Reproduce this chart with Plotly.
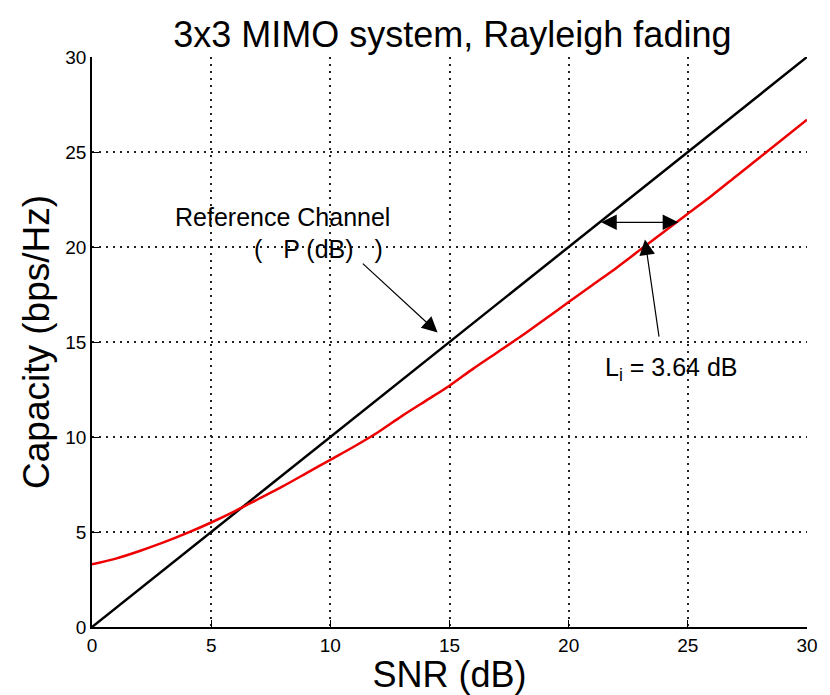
import plotly.graph_objects as go

snr_db = list(range(0, 31))
cap_reference = [float(v) for v in snr_db]
cap_rayleigh = [3.3, 3.6, 4.0, 4.45, 4.95, 5.5, 6.1, 6.75, 7.4, 8.1, 8.8, 9.5, 10.25,
                11.1, 11.9, 12.7, 13.6, 14.45, 15.3, 16.2, 17.1, 18.0, 18.9, 19.85,
                20.8, 21.75, 22.7, 23.7, 24.7, 25.7, 26.7]
tick_vals = [0, 5, 10, 15, 20, 25, 30]

FONT = "Liberation Sans, Arial, sans-serif"

fig = go.Figure()
fig.add_trace(go.Scatter(x=snr_db, y=cap_reference, mode="lines",
                         line=dict(color="black", width=2.5), showlegend=False))
fig.add_trace(go.Scatter(x=snr_db, y=cap_rayleigh, mode="lines",
                         line=dict(color="#ee0000", width=2.5, shape="spline",
                                   smoothing=0.8), showlegend=False))

annos = [
    dict(x=8.0, y=21.6, text="Reference Channel", showarrow=False,
         font=dict(size=25, color="black", family=FONT)),
    dict(x=9.5, y=19.9, text="(\u00a0\u00a0\u00a0P (dB)\u00a0\u00a0\u00a0)", showarrow=False,
         font=dict(size=25, color="black", family=FONT)),
    dict(x=24.3, y=13.6, text="L<sub>i</sub> = 3.64 dB", showarrow=False,
         font=dict(size=25, color="black", family=FONT)),
    # arrow to reference channel line
    dict(x=14.5, y=15.5, ax=11.3, ay=19.2, axref="x", ayref="y", xref="x", yref="y",
         text="", showarrow=True, arrowhead=2, arrowsize=2.6, arrowwidth=1.2,
         arrowcolor="black"),
    # arrow to red curve
    dict(x=23.2, y=20.4, ax=23.8, ay=15.2, axref="x", ayref="y", xref="x", yref="y",
         text="", showarrow=True, arrowhead=2, arrowsize=2.6, arrowwidth=1.2,
         arrowcolor="black"),
    # double-headed arrow showing loss
    dict(x=24.6, y=21.3, ax=21.3, ay=21.3, axref="x", ayref="y", xref="x", yref="y",
         text="", showarrow=True, arrowhead=2, startarrowhead=2, arrowside="end+start",
         arrowsize=2.6, startarrowsize=2.6, arrowwidth=1.2, arrowcolor="black"),
]

axis_common = dict(
    range=[0, 30], tickvals=tick_vals, ticks="inside", ticklen=7, tickcolor="black",
    showline=True, linecolor="black", linewidth=1.5, mirror=False,
    showgrid=True, gridcolor="#222222", griddash="2px,5px", gridwidth=1.5,
    zeroline=False, tickfont=dict(size=19, color="black", family=FONT),
)

fig.update_layout(
    width=830, height=695,
    margin=dict(l=92, r=18, t=57, b=68),
    paper_bgcolor="white", plot_bgcolor="white",
    title=dict(text="3x3 MIMO system, Rayleigh fading", x=0.545, xanchor="center",
               y=0.95, yanchor="middle",
               font=dict(size=36, color="black", family=FONT)),
    xaxis=dict(**axis_common,
               title=dict(text="SNR (dB)", standoff=2,
                          font=dict(size=36, color="black", family=FONT))),
    yaxis=dict(**axis_common,
               title=dict(text="Capacity (bps/Hz)", standoff=4,
                          font=dict(size=37, color="black", family=FONT))),
    annotations=annos,
)

fig.write_html("out.html")
